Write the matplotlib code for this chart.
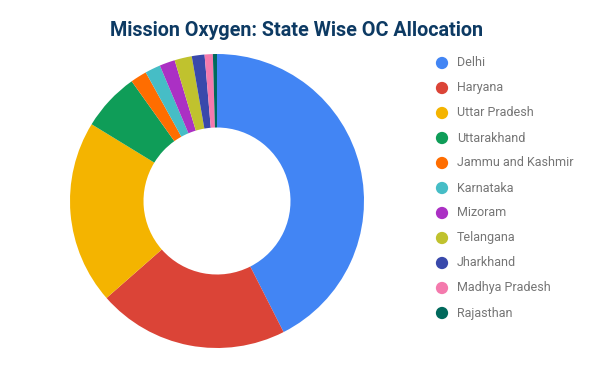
import matplotlib
matplotlib.use("Agg")
import matplotlib.pyplot as plt

plt.rcParams['font.family'] = ['Roboto', 'DejaVu Sans']

states = ["Delhi", "Haryana", "Uttar Pradesh", "Uttarakhand", "Jammu and Kashmir",
          "Karnataka", "Mizoram", "Telangana", "Jharkhand", "Madhya Pradesh", "Rajasthan"]
values = [42.5, 21.0, 20.2, 6.4, 1.8, 1.7, 1.7, 1.9, 1.4, 0.9, 0.45]
colors = ["#4285F4", "#DB4437", "#F4B400", "#0F9D58", "#FF6D00", "#46BDC6",
          "#AB30C4", "#C0C22E", "#3949AB", "#F47AAD", "#00695C"]

fig = plt.figure(figsize=(5.91, 3.66), dpi=100)

ax = fig.add_axes([70 / 591, 18 / 366, 294 / 591, 294 / 366])
ax.pie(values, colors=colors, startangle=90, counterclock=False,
       radius=1.0, wedgeprops=dict(width=0.5, edgecolor='none'))
ax.set_xlim(-1, 1)
ax.set_ylim(-1, 1)
ax.set_aspect('equal')
ax.axis('off')

fig.text(296 / 591, 1 - 31 / 366, "Mission Oxygen: State Wise OC Allocation",
         ha='center', va='center', fontsize=14.2, fontweight='bold', color='#0D3A63')

# legend
lg = fig.add_axes([0, 0, 1, 1])
lg.set_xlim(0, 591)
lg.set_ylim(366, 0)
lg.axis('off')
for i, (name, c) in enumerate(zip(states, colors)):
    y = 63 + 25 * i
    lg.scatter([442], [y], s=78, color=c, edgecolors='none')
    lg.text(457, y, name, va='center', ha='left', fontsize=9, color='#757575')

fig.savefig("out.png", dpi=100)
